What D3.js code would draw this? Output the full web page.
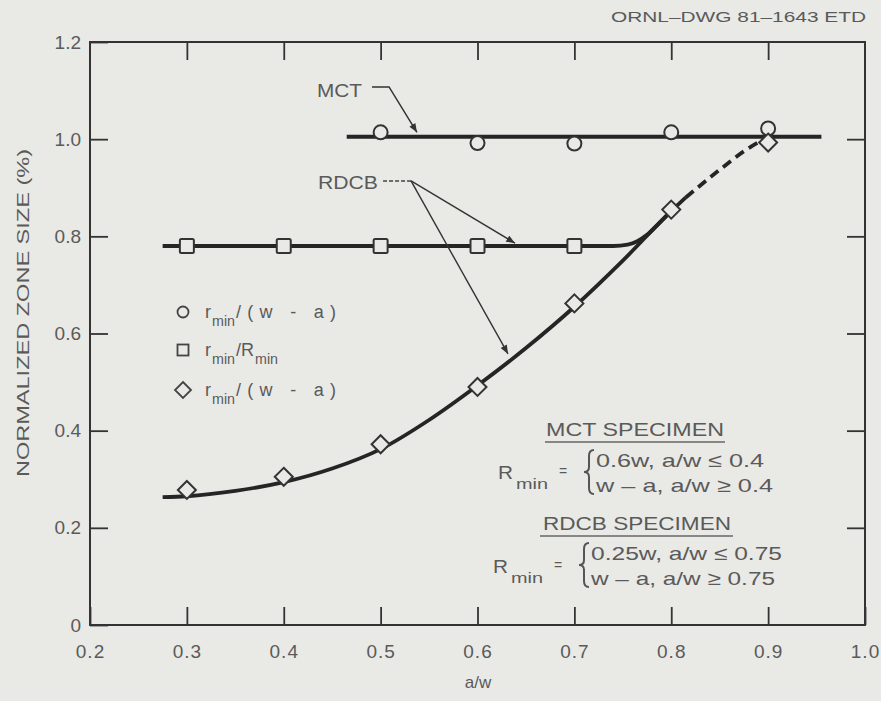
<!DOCTYPE html>
<html><head><meta charset="utf-8">
<script src="https://cdn.jsdelivr.net/npm/d3@7"></script>
<style>
html,body{margin:0;padding:0;background:#e9e9e6;}
svg{display:block;}
text{font-family:"Liberation Sans","DejaVu Sans",sans-serif;fill:#5a5a5a;}
</style></head><body>
<svg id="chart" width="881" height="701"></svg>
<script>
// ---------- data ----------
const xTickValues = [0.2,0.3,0.4,0.5,0.6,0.7,0.8,0.9,1.0];
const xTickLabels = ["0.2","0.3","0.4","0.5","0.6","0.7","0.8","0.9","1.0"];
const yTickValues = [0,0.2,0.4,0.6,0.8,1.0,1.2];
const yTickLabels = ["0","0.2","0.4","0.6","0.8","1.0","1.2"];

// MCT specimen, r_min/(w - a) (circles)
const mctX = [0.5,0.6,0.7,0.8,0.9];
const mctY = [1.014,0.992,0.991,1.014,1.022];
// RDCB specimen, r_min/R_min (squares)
const rdcbSquareX = [0.3,0.4,0.5,0.6,0.7];
const rdcbSquareY = [0.78,0.78,0.78,0.78,0.78];
// RDCB specimen, r_min/(w - a) (diamonds)
const rdcbDiamondX = [0.3,0.4,0.5,0.6,0.7,0.8,0.9];
const rdcbDiamondY = [0.278,0.305,0.372,0.490,0.662,0.855,0.993];

// fitted curves
const mctFitX = [0.465,0.955];
const mctFitY = [1.005,1.005];
const squareFitX = [0.275,0.35,0.45,0.55,0.65,0.74,0.755,0.765,0.775,0.785,0.795];
const squareFitY = [0.78,0.78,0.78,0.78,0.78,0.78,0.783,0.79,0.803,0.822,0.842];
const diamondFitX = [0.275,0.30,0.35,0.40,0.45,0.50,0.55,0.60,0.65,0.70,0.75,0.80,0.815];
const diamondFitY = [0.263,0.265,0.276,0.294,0.322,0.362,0.422,0.493,0.570,0.655,0.750,0.852,0.880];
const diamondDashX = [0.815,0.85,0.875,0.90];
const diamondDashY = [0.880,0.937,0.975,1.005];

// annotation pointers (data coordinates)
const mctPointer = [[0.4911,1.1075],[0.5087,1.1075],[0.5375,1.014]];
const rdcbDash = [[0.5025,0.914],[0.5314,0.914]];
const rdcbArrowTips = [[0.6387,0.786],[0.6315,0.558]];

// ---------- layout ----------
const svg = d3.select("#chart");
const x = d3.scaleLinear().domain([0.2,1.0]).range([90,865]);
const y = d3.scaleLinear().domain([0,1.2]).range([625,42]);
const ink = "#252525", txt = "#5a5a5a", bg = "#e9e9e6";

svg.append("rect").attr("width",881).attr("height",701).attr("fill",bg);

const defs = svg.append("defs");
defs.append("marker").attr("id","arrow").attr("markerUnits","userSpaceOnUse")
  .attr("viewBox","0 0 10 8").attr("refX",10).attr("refY",4)
  .attr("markerWidth",10).attr("markerHeight",7).attr("orient","auto")
  .append("path").attr("d","M0,0 L10,4 L0,8 Z").attr("fill","#333");

// axes (ticks point inward on all four sides)
function styleAxis(g){
  g.select(".domain").remove();
  g.selectAll(".tick line").attr("stroke","#333").attr("stroke-width",1.8);
  g.selectAll(".tick text").attr("fill",txt).style("font-size","19px")
   .style("font-family",'"Liberation Sans","DejaVu Sans",sans-serif');
}
const xFmt = d => xTickLabels[xTickValues.indexOf(d)];
const yFmt = d => yTickLabels[yTickValues.indexOf(d)];

svg.append("g").attr("transform","translate(0,625)")
  .call(d3.axisBottom(x).tickValues(xTickValues).tickFormat(xFmt)
        .tickSizeInner(-18).tickSizeOuter(0).tickPadding(20))
  .call(styleAxis).selectAll(".tick text").attr("letter-spacing","1px");
svg.append("g").attr("transform","translate(0,42)")
  .call(d3.axisTop(x).tickValues(xTickValues.slice(1,-1)).tickFormat("")
        .tickSizeInner(-18).tickSizeOuter(0))
  .call(styleAxis);
svg.append("g").attr("transform","translate(90,0)")
  .call(d3.axisLeft(y).tickValues(yTickValues).tickFormat(yFmt)
        .tickSizeInner(-18).tickSizeOuter(0).tickPadding(9))
  .call(styleAxis);
svg.append("g").attr("transform","translate(865,0)")
  .call(d3.axisRight(y).tickValues(yTickValues.slice(1,-1)).tickFormat("")
        .tickSizeInner(-18).tickSizeOuter(0))
  .call(styleAxis);

// frame
svg.append("rect").attr("x",x(0.2)).attr("y",y(1.2))
  .attr("width",x(1.0)-x(0.2)).attr("height",y(0)-y(1.2))
  .attr("fill","none").attr("stroke","#333").attr("stroke-width",2);

// axis titles
svg.append("text").attr("x",478).attr("y",688).attr("text-anchor","middle")
  .style("font-size","17px").text("a/w");
svg.append("text").attr("transform","translate(29,313) rotate(-90)")
  .attr("text-anchor","middle").style("font-size","17px")
  .attr("textLength",328).attr("lengthAdjust","spacingAndGlyphs")
  .text("NORMALIZED ZONE SIZE (%)");
svg.append("text").attr("x",611).attr("y",22)
  .style("font-size","15px").attr("textLength",255).attr("lengthAdjust","spacingAndGlyphs")
  .text("ORNL\u2013DWG 81\u20131643  ETD");

// ---------- fitted curves ----------
const zip = (xs,ys) => xs.map((v,i)=>[v,ys[i]]);
const line = d3.line().x(d=>x(d[0])).y(d=>y(d[1])).curve(d3.curveMonotoneX);

svg.append("path").attr("d",line(zip(mctFitX,mctFitY)))
  .attr("fill","none").attr("stroke",ink).attr("stroke-width",4);
svg.append("path").attr("d",line(zip(squareFitX,squareFitY)))
  .attr("fill","none").attr("stroke",ink).attr("stroke-width",4);
svg.append("path").attr("d",line(zip(diamondFitX,diamondFitY)))
  .attr("fill","none").attr("stroke",ink).attr("stroke-width",3.8);
svg.append("path").attr("d",line(zip(diamondDashX,diamondDashY)))
  .attr("fill","none").attr("stroke",ink).attr("stroke-width",3.8)
  .attr("stroke-dasharray","10 6");

// ---------- markers ----------
const mStroke = "#333", mW = 2;
svg.append("g").selectAll("circle").data(zip(mctX,mctY)).join("circle")
  .attr("cx",d=>x(d[0])).attr("cy",d=>y(d[1])).attr("r",7)
  .attr("fill",bg).attr("stroke",mStroke).attr("stroke-width",mW);
svg.append("g").selectAll("rect").data(zip(rdcbSquareX,rdcbSquareY)).join("rect")
  .attr("x",d=>x(d[0])-7).attr("y",d=>y(d[1])-7).attr("width",14).attr("height",14).attr("rx",1.5)
  .attr("fill",bg).attr("stroke",mStroke).attr("stroke-width",mW);
const diamondPath = (cx,cy,h) => `M${cx},${cy-h} L${cx+h},${cy} L${cx},${cy+h} L${cx-h},${cy} Z`;
svg.append("g").selectAll("path").data(zip(rdcbDiamondX,rdcbDiamondY)).join("path")
  .attr("d",d=>diamondPath(x(d[0]),y(d[1]),9))
  .attr("fill",bg).attr("stroke",mStroke).attr("stroke-width",mW);

// ---------- annotations ----------
svg.append("text").attr("x",x(0.4808)).attr("y",y(1.101)+7).attr("text-anchor","end")
  .style("font-size","19px").attr("textLength",45).attr("lengthAdjust","spacingAndGlyphs").text("MCT");
svg.append("path").attr("d",d3.line().x(d=>x(d[0])).y(d=>y(d[1]))(mctPointer))
  .attr("fill","none").attr("stroke","#333").attr("stroke-width",1.5).attr("marker-end","url(#arrow)");

svg.append("text").attr("x",x(0.4973)).attr("y",y(0.912)+7).attr("text-anchor","end")
  .style("font-size","19px").attr("textLength",60).attr("lengthAdjust","spacingAndGlyphs").text("RDCB");
svg.append("path").attr("d",d3.line().x(d=>x(d[0])).y(d=>y(d[1]))(rdcbDash))
  .attr("fill","none").attr("stroke","#444").attr("stroke-width",1.5).attr("stroke-dasharray","4 2");
rdcbArrowTips.forEach(t=>{
  svg.append("line").attr("x1",x(rdcbDash[1][0])).attr("y1",y(rdcbDash[1][1]))
    .attr("x2",x(t[0])).attr("y2",y(t[1]))
    .attr("stroke","#333").attr("stroke-width",1.4).attr("marker-end","url(#arrow)");
});

// ---------- legend ----------
const legendRows = [
  {sym:"circle", main2:"/(w - a)", len2:100, cy:312},
  {sym:"square", main2:"/R", len2:18, sub2:"min", cy:350},
  {sym:"diamond", main2:"/(w - a)", len2:100, cy:390}
];
legendRows.forEach(r=>{
  const cx = 183;
  if(r.sym==="circle") svg.append("circle").attr("cx",cx).attr("cy",r.cy).attr("r",5.5)
      .attr("fill",bg).attr("stroke","#444").attr("stroke-width",1.8);
  if(r.sym==="square") svg.append("rect").attr("x",cx-5.5).attr("y",r.cy-5.5).attr("width",11).attr("height",11)
      .attr("fill",bg).attr("stroke","#444").attr("stroke-width",1.8);
  if(r.sym==="diamond") svg.append("path").attr("d",diamondPath(cx,r.cy,8))
      .attr("fill",bg).attr("stroke","#444").attr("stroke-width",1.8);
  const base = r.cy+6;
  svg.append("text").attr("x",205).attr("y",base).style("font-size","18px").text("r");
  svg.append("text").attr("x",212).attr("y",base+8).style("font-size","15px")
    .attr("textLength",23).attr("lengthAdjust","spacingAndGlyphs").text("min");
  svg.append("text").attr("x",236).attr("y",base).style("font-size","18px")
    .attr("textLength",r.len2).attr("lengthAdjust","spacing").text(r.main2);
  if(r.sub2) svg.append("text").attr("x",255).attr("y",base+8).style("font-size","15px")
    .attr("textLength",23).attr("lengthAdjust","spacingAndGlyphs").text(r.sub2);
});

// ---------- specimen definitions ----------
function brace(bx,y0,y1){
  const m=(y0+y1)/2, w=5;
  return `M${bx+w},${y0} Q${bx},${y0} ${bx},${y0+6} L${bx},${m-5} Q${bx},${m} ${bx-w},${m}`+
         ` Q${bx},${m} ${bx},${m+5} L${bx},${y1-6} Q${bx},${y1} ${bx+w},${y1}`;
}
const specimens = [
  {title:"MCT SPECIMEN", tx:546, tlen:178, ty:436, ulx:[545,725], uly:442,
   rx:498, ry:479, eqx:563, bx:589, by:[450,494], lx:596,
   l1:"0.6w, a/w \u2264 0.4", l1len:168, l1y:467, l2:"w \u2013 a, a/w \u2265 0.4", l2len:177, l2y:492},
  {title:"RDCB SPECIMEN", tx:543, tlen:188, ty:530, ulx:[540,733], uly:536,
   rx:493, ry:573, eqx:558, bx:584, by:[543,587], lx:591,
   l1:"0.25w, a/w \u2264 0.75", l1len:191, l1y:560, l2:"w \u2013 a, a/w \u2265 0.75", l2len:184, l2y:585}
];
specimens.forEach(s=>{
  svg.append("text").attr("x",s.tx).attr("y",s.ty).style("font-size","19px")
    .attr("textLength",s.tlen).attr("lengthAdjust","spacingAndGlyphs").text(s.title);
  svg.append("line").attr("x1",s.ulx[0]).attr("x2",s.ulx[1]).attr("y1",s.uly).attr("y2",s.uly)
    .attr("stroke","#666").attr("stroke-width",1.6);
  svg.append("text").attr("x",s.rx).attr("y",s.ry).style("font-size","19px")
    .attr("textLength",15).attr("lengthAdjust","spacingAndGlyphs").text("R");
  svg.append("text").attr("x",s.rx+18).attr("y",s.ry+10).style("font-size","15px")
    .attr("textLength",32).attr("lengthAdjust","spacingAndGlyphs").text("min");
  svg.append("text").attr("x",s.eqx).attr("y",s.ry-3).attr("text-anchor","middle").style("font-size","14px").text("=");
  svg.append("path").attr("d",brace(s.bx,s.by[0],s.by[1])).attr("fill","none")
    .attr("stroke","#555").attr("stroke-width",2);
  svg.append("text").attr("x",s.lx).attr("y",s.l1y).style("font-size","19px")
    .attr("textLength",s.l1len).attr("lengthAdjust","spacingAndGlyphs").text(s.l1);
  svg.append("text").attr("x",s.lx).attr("y",s.l2y).style("font-size","19px")
    .attr("textLength",s.l2len).attr("lengthAdjust","spacingAndGlyphs").text(s.l2);
});
</script>
</body></html>
